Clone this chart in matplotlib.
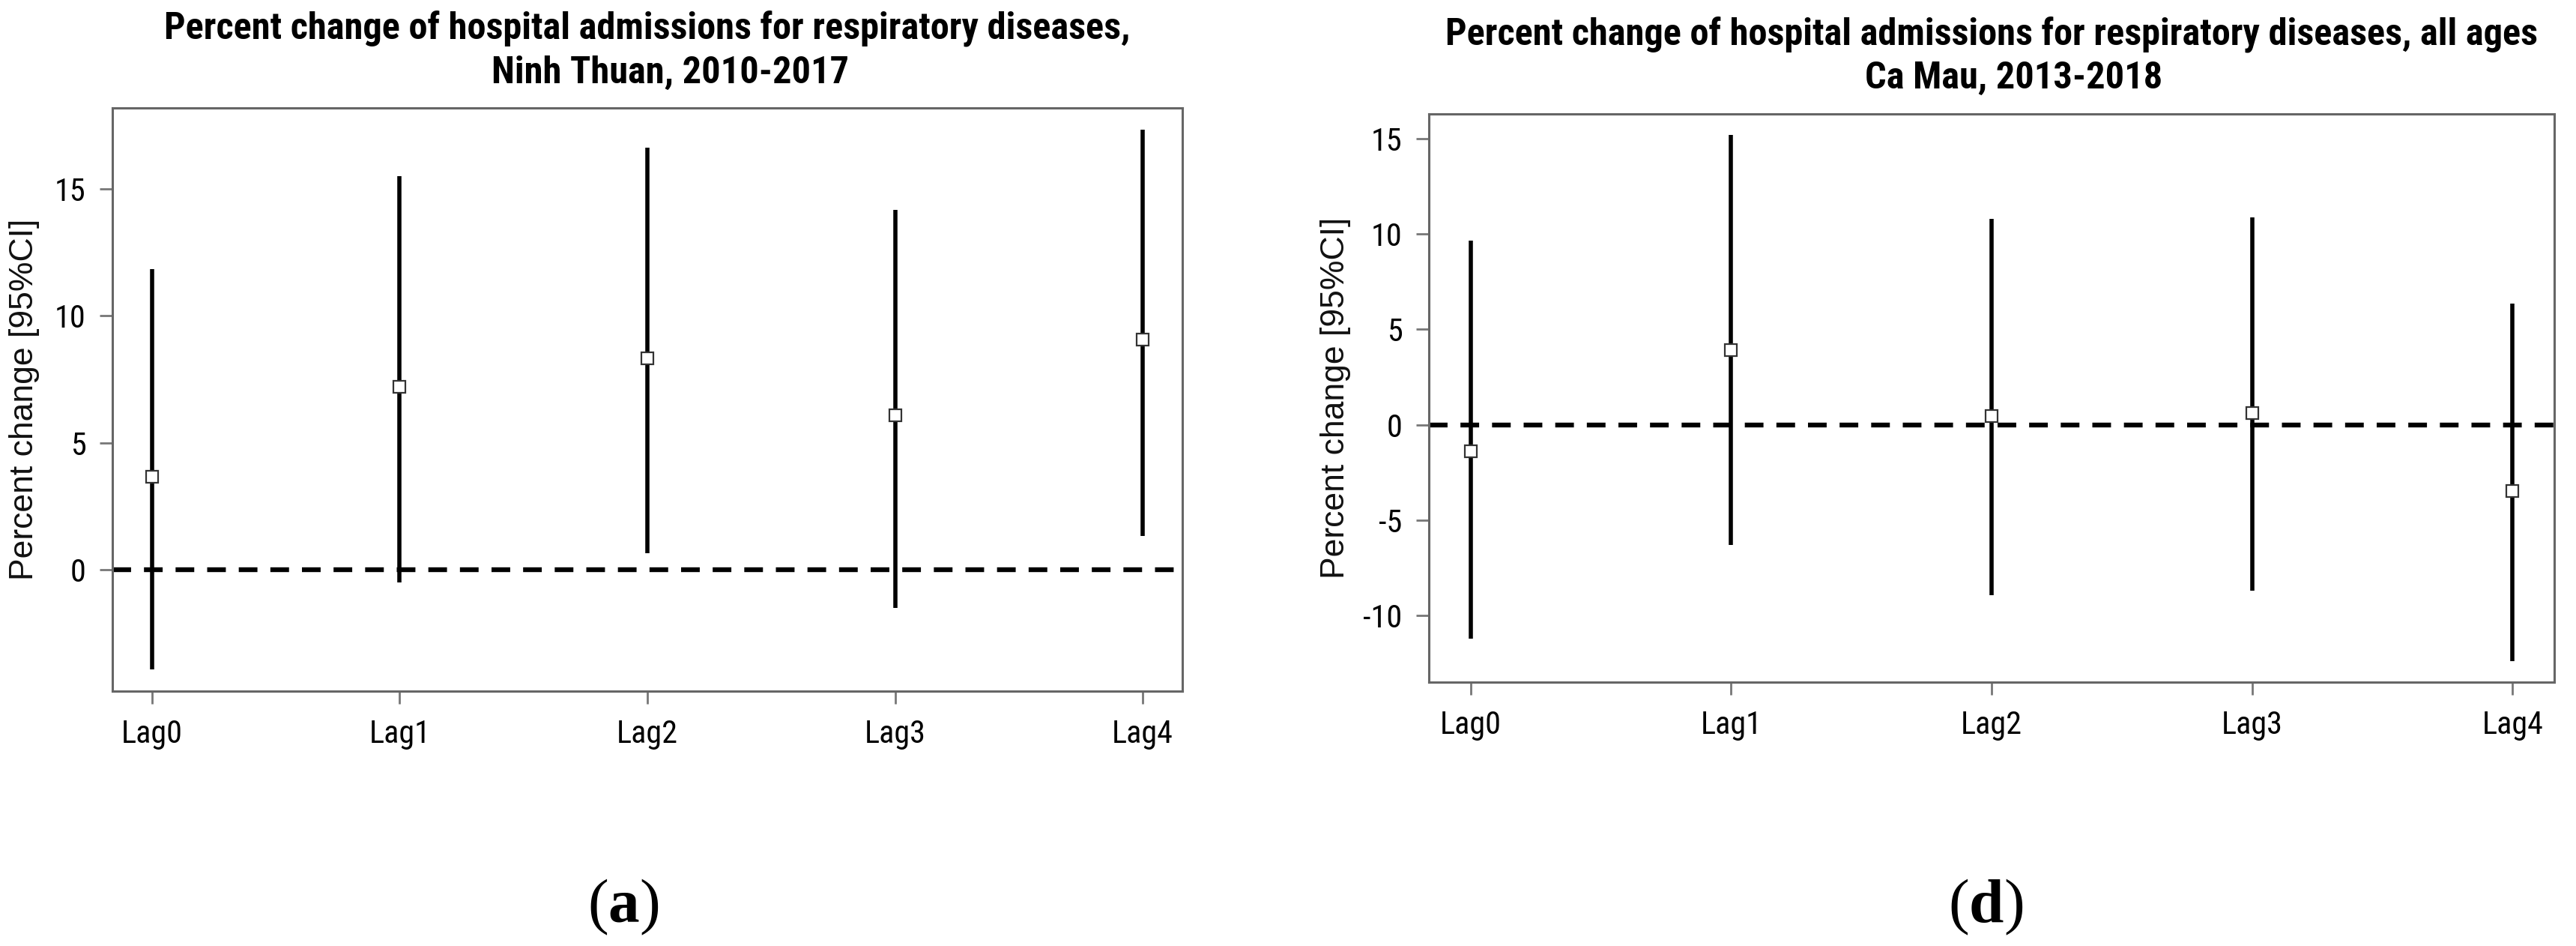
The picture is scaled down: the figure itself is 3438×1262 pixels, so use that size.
import os
import numpy as np
import matplotlib
matplotlib.use("Agg")
import matplotlib.pyplot as plt
from matplotlib import font_manager as fm

plt.rcParams["mathtext.fontset"] = "custom"
plt.rcParams["mathtext.bf"] = "Liberation Serif:bold"
plt.rcParams["mathtext.rm"] = "Liberation Serif"

lags = ["Lag0", "Lag1", "Lag2", "Lag3", "Lag4"]

# Ninh Thuan, 2010-2017
nt_est = [3.66, 7.21, 8.33, 6.08, 9.05]
nt_low = [-3.93, -0.49, 0.64, -1.50, 1.33]
nt_up = [11.83, 15.49, 16.61, 14.17, 17.33]
nt_yticks = [0, 5, 10, 15]

# Ca Mau, 2013-2018
cm_est = [-1.40, 3.92, 0.47, 0.62, -3.49]
cm_low = [-11.21, -6.31, -8.93, -8.68, -12.39]
cm_up = [9.65, 15.19, 10.78, 10.88, 6.34]
cm_yticks = [-10, -5, 0, 5, 10, 15]

nt_title = ["Percent change of hospital admissions for respiratory diseases,",
            "Ninh Thuan, 2010-2017"]
cm_title = ["Percent change of hospital admissions for respiratory diseases, all ages",
            "Ca Mau, 2013-2018"]
ylab = "Percent change [95%CI]"

W, H = 3438, 1262
fig = plt.figure(figsize=(W / 100, H / 100), dpi=100)


# the reference uses a narrow sans (Arial Narrow look); take one if installed
def find_file(names):
    files = {os.path.basename(f.fname).lower(): f.fname for f in fm.fontManager.ttflist}
    for n in names:
        if n in files:
            return files[n]
    return None


reg = find_file(["liberationsansnarrow-regular.ttf", "arialn.ttf", "robotocondensed-regular.ttf",
                 "dejavusanscondensed.ttf"])
bld = find_file(["liberationsansnarrow-bold.ttf", "arialnb.ttf", "robotocondensed-bold.ttf",
                 "dejavusanscondensed-bold.ttf"])
fp_reg = fm.FontProperties(fname=reg) if reg else fm.FontProperties(family="Liberation Sans")
fp_bold = fm.FontProperties(fname=bld) if bld else fm.FontProperties(family="Liberation Sans", weight="bold")

renderer = fig.canvas.get_renderer()


def fit_size(text, fp, target_w, max_size):
    t = fig.text(0, 0, text, fontproperties=fp, fontsize=max_size)
    w = t.get_window_extent(renderer).width
    t.remove()
    return min(max_size, max_size * target_w / w)


tick_size = fit_size("Lag0", fp_reg, 82, 33)


def px_box(x0, y0, x1, y1):
    return [x0 / W, 1 - y1 / H, (x1 - x0) / W, (y1 - y0) / H]


def draw_panel(ax, est, low, up, yticks):
    x = np.arange(len(lags))
    ax.axhline(0, color="black", lw=4.6, ls=(0, (3.9, 2.7)), zorder=1)
    ax.vlines(x, low, up, color="black", lw=4.0, capstyle="butt", zorder=2)
    ax.plot(x, est, "s", ms=11, mfc="white", mec="#333333", mew=1.6, zorder=3)
    lo, hi = min(low), max(up)
    pad = 0.04 * (hi - lo)
    ax.set_ylim(lo - pad, hi + pad)
    ax.set_xlim(-0.16, len(lags) - 1 + 0.16)
    ax.set_xticks(x)
    ax.set_xticklabels(lags, fontproperties=fp_reg, fontsize=tick_size, color="black")
    ax.set_yticks(yticks)
    ax.set_yticklabels([str(t) for t in yticks], fontproperties=fp_reg, fontsize=tick_size,
                       color="black")
    ax.tick_params(axis="both", length=12.5, width=2.0, color="#777777")
    ax.tick_params(axis="y", pad=13)
    ax.tick_params(axis="x", pad=14)
    for s in ax.spines.values():
        s.set_linewidth(2.2)
        s.set_color("#666666")


ax1 = fig.add_axes(px_box(150, 144, 1578, 922))
draw_panel(ax1, nt_est, nt_low, nt_up, nt_yticks)

ax2 = fig.add_axes(px_box(1907, 152, 3409, 910))
draw_panel(ax2, cm_est, cm_low, cm_up, cm_yticks)

size_nt = fit_size(nt_title[0], fp_bold, 1290, 38)
size_cm = fit_size(cm_title[0], fp_bold, 1528, 38)
title_size = min(size_nt, size_cm)
tkw = dict(fontproperties=fp_bold, fontsize=title_size, ha="center", va="baseline", color="black")
fig.text(864 / W, 1 - 52 / H, nt_title[0], **tkw)
fig.text(894 / W, 1 - 111 / H, nt_title[1], **tkw)
fig.text(2658 / W, 1 - 59 / H, cm_title[0], **tkw)
fig.text(2688 / W, 1 - 118 / H, cm_title[1], **tkw)

ylab_kw = dict(fontfamily=["Liberation Sans", "DejaVu Sans"], fontsize=32, rotation=90,
               ha="center", va="center", color="#111111")
fig.text(33 / W, 1 - 533 / H, ylab, **ylab_kw)
fig.text(1782 / W, 1 - 531 / H, ylab, **ylab_kw)

cap_kw = dict(fontfamily="Liberation Serif", fontsize=60, ha="center", va="center")
fig.text(832 / W, 1 - 1210 / H, r"($\mathbf{a}$)", **cap_kw)
fig.text(2650 / W, 1 - 1210 / H, r"($\mathbf{d}$)", **cap_kw)

fig.savefig("out.png", dpi=100, facecolor="white")
